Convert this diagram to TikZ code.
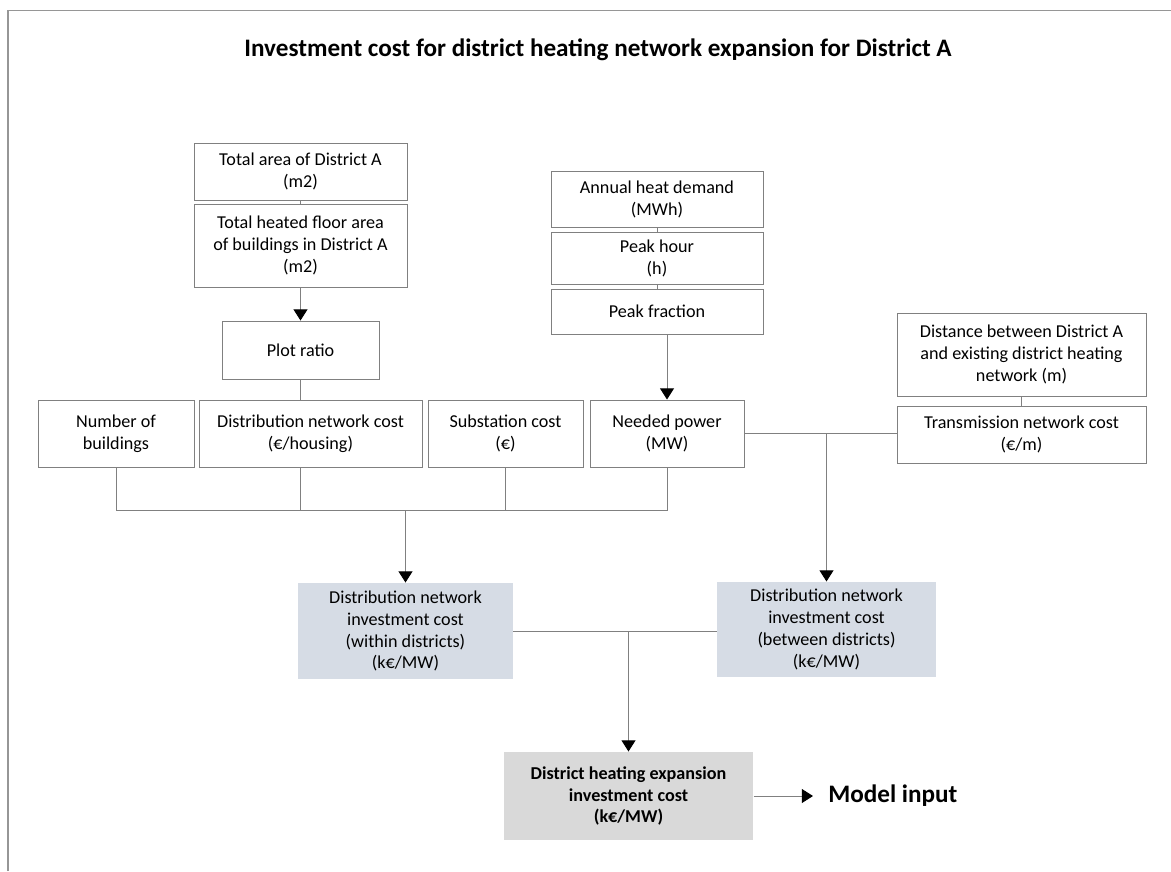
\documentclass[tikz,border=0pt]{standalone}
\usepackage{fontspec}
\setmainfont{Carlito}
\usetikzlibrary{arrows.meta}

\definecolor{framegray}{RGB}{150,150,150}
\definecolor{linegray}{RGB}{128,128,128}
\definecolor{calcblue}{RGB}{214,220,229}
\definecolor{resultgray}{RGB}{217,217,217}

\begin{document}
\begin{tikzpicture}[x=0.025cm, y=-0.025cm,
  box/.style={draw=linegray, line width=0.7pt, fill=white, align=center, inner sep=0pt,
              font=\fontsize{12.9pt}{15.6pt}\selectfont},
  calc/.style={box, draw=none, fill=calcblue},
  result/.style={box, draw=none, fill=resultgray, font=\fontsize{12.9pt}{15.6pt}\selectfont\bfseries},
  boxsize/.style 2 args={minimum width=#1*0.025cm, minimum height=#2*0.025cm},
  link/.style={draw=linegray, line width=0.7pt},
  feed/.style={link, -{Triangle[width=10pt, length=8pt, color=black]}}]

\useasboundingbox (0,0) rectangle (1171,871);

%% frame
\draw[framegray, line width=0.9pt] (8,871) -- (8,10.5) -- (1171,10.5);

%% title
\node[font=\fontsize{17.9pt}{21pt}\selectfont\bfseries] (title) at (598,50)
  {Investment cost for district heating network expansion for District A};

%% inputs
\node[box, boxsize={213}{57}] (tarea) at (300.5,171.5) {Total area of District A\\(m2)};
\node[box, boxsize={213}{83}] (tfloor) at (300.5,245.5) {Total heated floor area\\of buildings in District A\\(m2)};
\node[box, boxsize={157}{58}] (plot) at (300.5,350) {Plot ratio};
\node[box, boxsize={156}{67}] (nbuild) at (116,433.5) {Number of\\buildings};
\node[box, boxsize={223}{67}] (distcost) at (310.5,433.5) {Distribution network cost\\(€/housing)};
\node[box, boxsize={155}{67}] (subst) at (505.5,433.5) {Substation cost\\(€)};
\node[box, boxsize={154}{67}] (needpow) at (667,433.5) {Needed power\\(MW)};
\node[box, boxsize={212}{56}] (annual) at (657,199) {Annual heat demand\\(MWh)};
\node[box, boxsize={212}{52}] (peakh) at (657,258) {Peak hour\\(h)};
\node[box, boxsize={212}{45}] (peakf) at (657,311.5) {Peak fraction};
\node[box, boxsize={249}{83}] (distance) at (1021.5,354.5) {Distance between District A\\and existing district heating\\network (m)};
\node[box, boxsize={249}{57}] (transm) at (1021.5,434.5) {Transmission network cost\\(€/m)};

%% investment costs
\node[calc, boxsize={215}{96}] (within) at (405.5,631) {Distribution network\\investment cost\\(within districts)\\(k€/MW)};
\node[calc, boxsize={219}{95}] (between) at (826.5,629.5) {Distribution network\\investment cost\\(between districts)\\(k€/MW)};
\node[result, boxsize={249}{88}] (final) at (628.5,796) {District heating expansion\\investment cost\\(k€/MW)};
\node[anchor=west, inner sep=0pt, font=\fontsize{17.9pt}{21pt}\selectfont\bfseries] (minput) at (828,796) {Model input};

%% junctions
\coordinate (bus) at (405.5,510);
\coordinate (tj) at (needpow.east -| between.north);
\coordinate (rj) at (within.east -| final.north);

%% links
\draw[link] (tarea) -- (tfloor);
\draw[feed] (tfloor) -- (plot);
\draw[link] (plot.south) -- (plot.south |- distcost.north);
\draw[link] (annual) -- (peakh);
\draw[link] (peakh) -- (peakf);
\draw[feed] (peakf.south -| needpow.north) -- (needpow.north);
\draw[link] (distance) -- (transm);
\draw[link] (nbuild.south) |- (bus -| needpow.south) -- (needpow.south);
\draw[link] (plot.south |- distcost.south) -- (plot.south |- bus);
\draw[link] (subst.south) -- (subst.south |- bus);
\draw[feed] (bus) -- (within.north);
\draw[link] (needpow.east) -- (needpow.east -| transm.west);
\draw[feed] (tj) -- (between.north);
\draw[link] (within.east) -- (within.east -| between.west);
\draw[feed] (rj) -- (final.north);
\draw[feed, shorten >=0.375cm] (final.east) -- (minput.west);
\end{tikzpicture}
\end{document}
